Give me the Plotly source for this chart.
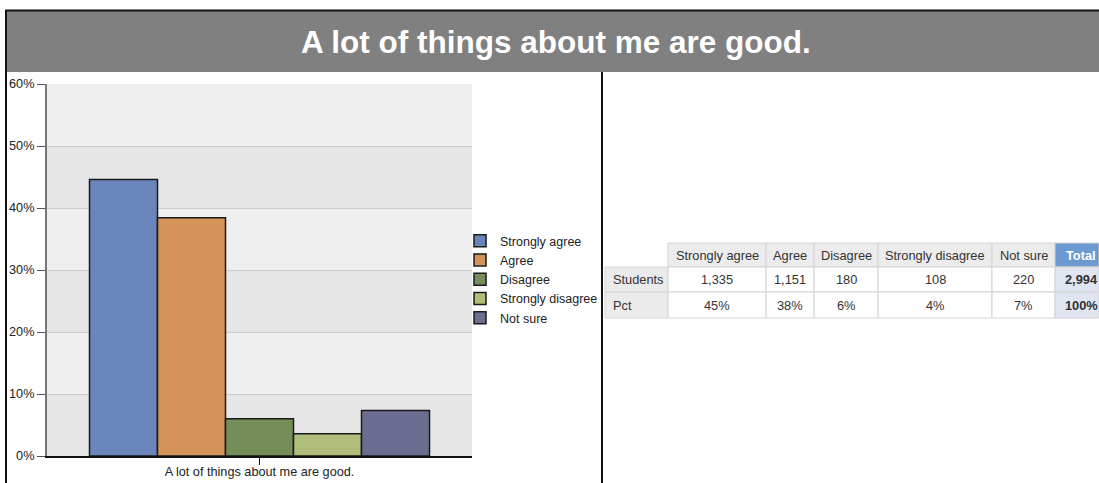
import plotly.graph_objects as go

W, H = 1099, 483

title = "A lot of things about me are good."
categories = ["Strongly agree", "Agree", "Disagree", "Strongly disagree", "Not sure"]
students = [1335, 1151, 180, 108, 220]
row_labels = ["Students", "Pct"]
colors = ["#6a84bc", "#d49358", "#758d59", "#b1bd7b", "#6b6e90"]
y_ticks = [0, 0.1, 0.2, 0.3, 0.4, 0.5, 0.6]

total = sum(students)
shares = [s / total for s in students]

FONT = "Arial, Liberation Sans, sans-serif"


def px(x):
    return x / W


def py(y):
    return 1 - y / H


fig = go.Figure()

for name, val, col in zip(categories, shares, colors):
    fig.add_trace(go.Bar(
        x=[title], y=[val], name=name,
        marker=dict(color=col, line=dict(color="#1a1a1a", width=1.5)),
        hoverinfo="skip",
    ))

shapes = []
annotations = []

# alternating bands
for lo in [0.0, 0.2, 0.4]:
    shapes.append(dict(type="rect", xref="x domain", yref="y", x0=0, x1=1,
                       y0=lo, y1=lo + 0.1, fillcolor="#e6e6e6",
                       line=dict(width=0), layer="below"))
# title band
shapes.append(dict(type="rect", xref="paper", yref="paper",
                   x0=px(5), x1=1.0, y0=py(72), y1=py(10.5),
                   fillcolor="#808080", line=dict(width=0), layer="below"))
shapes.append(dict(type="line", xref="paper", yref="paper",
                   x0=px(5), x1=1.0, y0=py(10.5), y1=py(10.5),
                   line=dict(color="#111111", width=2)))
shapes.append(dict(type="line", xref="paper", yref="paper",
                   x0=px(6), x1=px(6), y0=py(10), y1=0,
                   line=dict(color="#111111", width=2)))
shapes.append(dict(type="line", xref="paper", yref="paper",
                   x0=px(602), x1=px(602), y0=py(72), y1=0,
                   line=dict(color="#111111", width=2)))
annotations.append(dict(text="<b>" + title + "</b>", xref="paper", yref="paper",
                        x=px(556), y=py(42), xanchor="center", yanchor="middle",
                        showarrow=False,
                        font=dict(family=FONT, size=31.5, color="white")))

# ---- summary table (header row + two data rows) ----
header = [""] + categories + ["Total"]
rows = [
    [row_labels[0]] + [f"{s:,}" for s in students] + [f"{total:,}"],
    [row_labels[1]] + [f"{round(v * 100):.0f}%" for v in shares] + ["100%"],
]
col_w = [63, 98, 48, 64, 114, 63, 52]
row_h = [24, 25, 26]
tx0, ty0 = 605, 243
edges_x = [tx0]
for w in col_w:
    edges_x.append(edges_x[-1] + w)
edges_y = [ty0]
for h in row_h:
    edges_y.append(edges_y[-1] + h)

table_rows = [header] + rows
last = len(header) - 1
for r, row in enumerate(table_rows):
    for c, txt in enumerate(row):
        xa, xb = edges_x[c], min(edges_x[c + 1], W)
        ya, yb = edges_y[r], edges_y[r + 1]
        if r == 0 and c == 0:
            continue
        if r == 0:
            fill = "#6b9ad2" if c == last else "#ececec"
        elif c == 0:
            fill = "#ebebeb"
        elif c == last:
            fill = "#dfe6f1"
        else:
            fill = "white"
        shapes.append(dict(type="rect", xref="paper", yref="paper",
                           x0=px(xa), x1=px(xb), y0=py(yb), y1=py(ya),
                           fillcolor=fill, line=dict(color="#d4d4d4", width=1),
                           layer="below"))
        bold = c == last
        color = "white" if (r == 0 and c == last) else "#333333"
        label = f"<b>{txt}</b>" if bold else txt
        if c == 0:
            ax, anc = px(xa + 6), "left"
        else:
            ax, anc = px((edges_x[c] + edges_x[c + 1]) / 2), "center"
        annotations.append(dict(text=label, xref="paper", yref="paper",
                                x=ax, y=py((ya + yb) / 2), xanchor=anc,
                                yanchor="middle", showarrow=False,
                                font=dict(family=FONT, size=12.8, color=color)))

fig.update_layout(
    width=W, height=H,
    margin=dict(l=0, r=0, t=0, b=0, autoexpand=False),
    paper_bgcolor="white",
    plot_bgcolor="#efefef",
    barmode="group", bargap=0.2, bargroupgap=0,
    font=dict(family=FONT, size=12.7, color="#222222"),
    shapes=shapes,
    annotations=annotations,
    showlegend=True,
    legend=dict(x=px(460), y=py(226), xanchor="left", yanchor="top",
                bgcolor="rgba(0,0,0,0)", font=dict(size=12.5, color="#222222"),
                itemclick=False, tracegroupgap=0),
    xaxis=dict(domain=[px(47), px(472)], showgrid=False, showline=True,
               linecolor="#111111", linewidth=1.5, ticks="outside", ticklen=7,
               tickcolor="#111111", tickfont=dict(size=12.7, color="#222222"),
               ticklabelstandoff=-4,
               zeroline=False, fixedrange=True, automargin=False),
    yaxis=dict(domain=[py(456), py(84)], range=[0, 0.6], tickvals=y_ticks,
               tickformat=".0%", showgrid=True, gridcolor="#cccccc", gridwidth=1,
               showline=True, linecolor="#777777", linewidth=2,
               ticks="outside", ticklen=8, tickcolor="#555555",
               tickfont=dict(size=12.7, color="#222222"), zeroline=False,
               fixedrange=True, automargin=False),
)

fig.write_html(
    "out.html",
    config={"displayModeBar": False},
    post_script=(
        "document.documentElement.style.overflow='hidden';"
        "document.body.style.margin='0';document.body.style.padding='0';"
        "document.body.style.overflow='hidden';"
    ),
)
